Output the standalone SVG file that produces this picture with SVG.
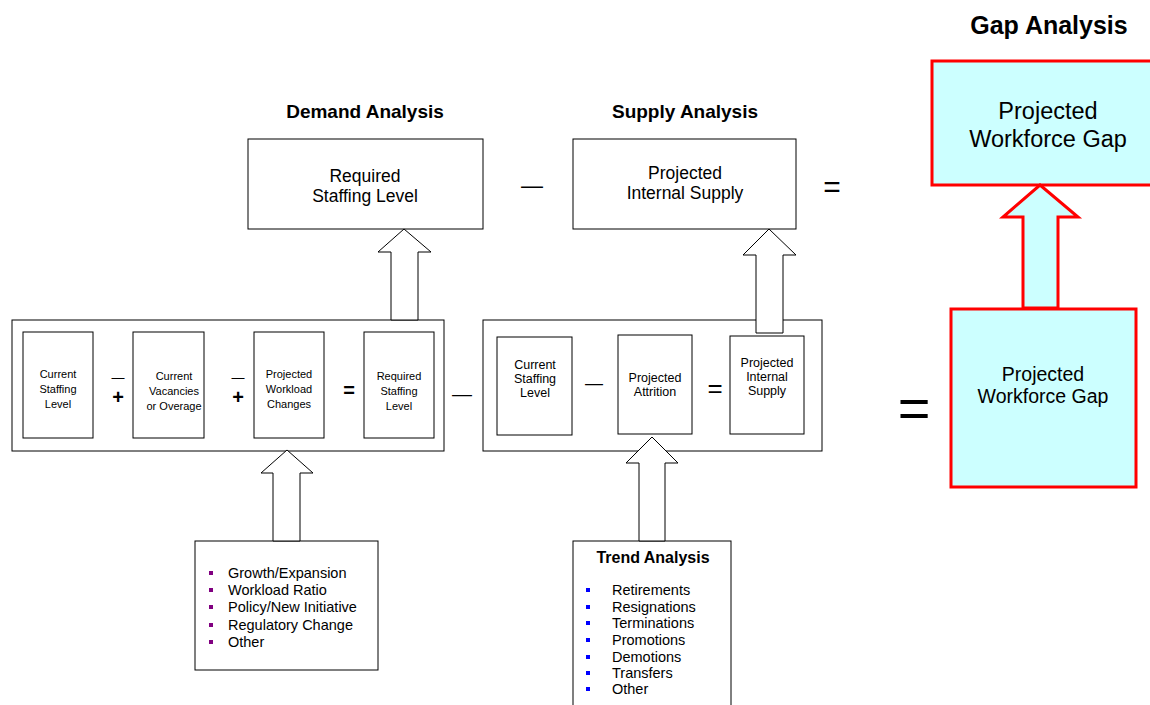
<svg xmlns="http://www.w3.org/2000/svg" width="1150" height="705" viewBox="0 0 1150 705">
  <style>
    text { font-family: "Liberation Sans", Arial, sans-serif; fill: #000; text-anchor: middle; }
    .box { fill: #fff; stroke: #000; stroke-width: 1; }
    .gap { fill: #ccffff; stroke: #ff0000; stroke-width: 3; }
    .arrow { fill: #fff; stroke: #000; stroke-width: 1; }
    .head { font-weight: bold; font-size: 19px; }
    .big { font-size: 17.5px; }
    .small { font-size: 11px; }
    .mid { font-size: 12.5px; }
    .list { font-size: 14.5px; text-anchor: start; }
    .bold { font-weight: bold; }
  </style>

  <!-- section headings -->
  <text class="head" x="365" y="118">Demand Analysis</text>
  <text class="head" x="685" y="118">Supply Analysis</text>
  <text class="head" x="1049" y="34" style="font-size:25px">Gap Analysis</text>

  <!-- summary row -->
  <g id="required-staffing">
    <rect class="box" x="248" y="139" width="235" height="90"/>
    <text class="big" x="365" y="182">Required</text>
    <text class="big" x="365" y="202">Staffing Level</text>
  </g>
  <text x="532" y="193" style="font-size:22px">—</text>
  <g id="internal-supply">
    <rect class="box" x="573" y="139" width="223" height="90"/>
    <text class="big" x="685" y="179">Projected</text>
    <text class="big" x="685" y="199">Internal Supply</text>
  </g>
  <text x="832" y="197" style="font-size:30px">=</text>

  <g id="gap-top">
    <rect class="gap" x="932" y="61" width="222" height="124"/>
    <text x="1048" y="119" style="font-size:23.5px">Projected</text>
    <text x="1048" y="147" style="font-size:23.5px">Workforce Gap</text>
  </g>

  <!-- demand equation -->
  <g id="demand-panel">
    <rect class="box" x="12" y="320" width="432" height="131"/>
    <g id="d-current">
      <rect class="box" x="23" y="332" width="70" height="106"/>
      <text class="small" x="58" y="378">Current</text>
      <text class="small" x="58" y="393">Staffing</text>
      <text class="small" x="58" y="408">Level</text>
    </g>
    <text x="118" y="382" style="font-size:13px">—</text>
    <text class="bold" x="118" y="404" style="font-size:20px">+</text>
    <g id="d-vacancies">
      <rect class="box" x="133" y="332" width="71" height="106"/>
      <text class="small" x="174" y="380">Current</text>
      <text class="small" x="174" y="395">Vacancies</text>
      <text class="small" x="174" y="410">or Overage</text>
    </g>
    <text x="238" y="382" style="font-size:13px">—</text>
    <text class="bold" x="238" y="404" style="font-size:20px">+</text>
    <g id="d-workload">
      <rect class="box" x="254" y="332" width="70" height="106"/>
      <text class="small" x="289" y="378">Projected</text>
      <text class="small" x="289" y="393">Workload</text>
      <text class="small" x="289" y="408">Changes</text>
    </g>
    <text class="bold" x="349" y="397" style="font-size:20px">=</text>
    <g id="d-required">
      <rect class="box" x="364" y="332" width="70" height="106"/>
      <text class="small" x="399" y="380">Required</text>
      <text class="small" x="399" y="395">Staffing</text>
      <text class="small" x="399" y="410">Level</text>
    </g>
  </g>
  <text x="462" y="401" style="font-size:20px">—</text>

  <!-- supply equation -->
  <g id="supply-panel">
    <rect class="box" x="483" y="320" width="339" height="131"/>
    <g id="s-current">
      <rect class="box" x="497" y="337" width="75" height="98"/>
      <text class="mid" x="535" y="369">Current</text>
      <text class="mid" x="535" y="383">Staffing</text>
      <text class="mid" x="535" y="397">Level</text>
    </g>
    <text x="594" y="389" style="font-size:18px">—</text>
    <g id="s-attrition">
      <rect class="box" x="618" y="335" width="74" height="99"/>
      <text class="mid" x="655" y="382">Projected</text>
      <text class="mid" x="655" y="396">Attrition</text>
    </g>
    <text x="715" y="397" style="font-size:26px">=</text>
    <g id="s-internal">
      <rect class="box" x="730" y="336" width="74" height="98"/>
      <text class="mid" x="767" y="367">Projected</text>
      <text class="mid" x="767" y="381">Internal</text>
      <text class="mid" x="767" y="395">Supply</text>
    </g>
  </g>

  <text x="914" y="427" style="font-size:56px">=</text>

  <g id="gap-bottom">
    <rect class="gap" x="951" y="309" width="185" height="178"/>
    <text x="1043" y="381" style="font-size:19.5px">Projected</text>
    <text x="1043" y="403" style="font-size:19.5px">Workforce Gap</text>
  </g>

  <!-- driver lists -->
  <g id="demand-drivers">
    <rect class="box" x="195" y="541" width="183" height="129"/>
    <g fill="#800080">
      <rect x="209" y="571" width="4" height="4"/>
      <rect x="209" y="588" width="4" height="4"/>
      <rect x="209" y="605" width="4" height="4"/>
      <rect x="209" y="623" width="4" height="4"/>
      <rect x="209" y="640" width="4" height="4"/>
    </g>
    <text class="list" x="228" y="578">Growth/Expansion</text>
    <text class="list" x="228" y="595">Workload Ratio</text>
    <text class="list" x="228" y="612">Policy/New Initiative</text>
    <text class="list" x="228" y="630">Regulatory Change</text>
    <text class="list" x="228" y="647">Other</text>
  </g>

  <g id="trend-analysis">
    <rect class="box" x="573" y="541" width="158" height="180"/>
    <text class="bold" x="653" y="563" style="font-size:16px">Trend Analysis</text>
    <g fill="#0000ff">
      <rect x="586" y="588" width="4" height="4"/>
      <rect x="586" y="605" width="4" height="4"/>
      <rect x="586" y="621" width="4" height="4"/>
      <rect x="586" y="638" width="4" height="4"/>
      <rect x="586" y="655" width="4" height="4"/>
      <rect x="586" y="671" width="4" height="4"/>
      <rect x="586" y="687" width="4" height="4"/>
    </g>
    <text class="list" x="612" y="595">Retirements</text>
    <text class="list" x="612" y="612">Resignations</text>
    <text class="list" x="612" y="628">Terminations</text>
    <text class="list" x="612" y="645">Promotions</text>
    <text class="list" x="612" y="662">Demotions</text>
    <text class="list" x="612" y="678">Transfers</text>
    <text class="list" x="612" y="694">Other</text>
  </g>

  <!-- block arrows -->
  <g id="connectors">
    <polygon class="arrow" points="404,229 431,252 418,252 418,320 391,320 391,252 378,252"/>
    <polygon class="arrow" points="769,229 796,255 783,255 783,333 756,333 756,255 743,255"/>
    <polygon class="arrow" points="287,450 313,473 300,473 300,541 273,541 273,473 261,473"/>
    <polygon class="arrow" points="652,437 678,463 665,463 665,541 639,541 639,463 626,463"/>
    <polygon class="gap" points="1040,185 1078,217 1058,217 1058,308 1023,308 1023,217 1003,217"/>
  </g>
</svg>
